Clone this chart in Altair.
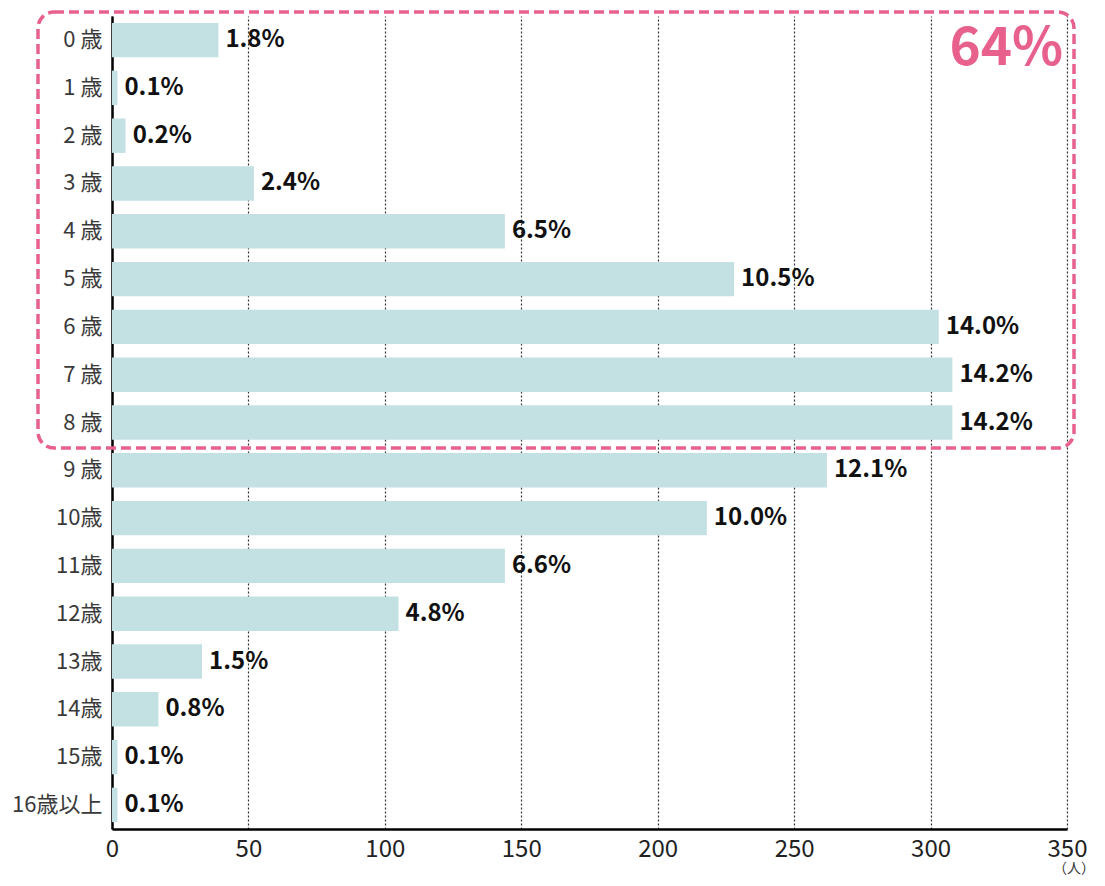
import altair as alt
import pandas as pd

ages = ["0 歳", "1 歳", "2 歳", "3 歳", "4 歳", "5 歳", "6 歳", "7 歳", "8 歳",
        "9 歳", "10歳", "11歳", "12歳", "13歳", "14歳", "15歳", "16歳以上"]
counts = [39, 2, 5, 52, 144, 228, 303, 308, 308, 262, 218, 144, 105, 33, 17, 2, 2]
pct_labels = ["1.8%", "0.1%", "0.2%", "2.4%", "6.5%", "10.5%", "14.0%", "14.2%", "14.2%",
              "12.1%", "10.0%", "6.6%", "4.8%", "1.5%", "0.8%", "0.1%", "0.1%"]
x_ticks = [0, 50, 100, 150, 200, 250, 300, 350]
highlight_text = "64%"
unit_text = "（人）"

df = pd.DataFrame({"age": ages, "count": counts, "pct": pct_labels})

FONT = "Noto Sans CJK JP"
W, H = 955, 813

y_enc = alt.Y("age:N", sort=ages, title=None,
              scale=alt.Scale(paddingInner=0.28, paddingOuter=0.144),
              axis=alt.Axis(labelFontSize=22, labelColor="#3a3a3a", labelFont=FONT,
                            labelPadding=10, ticks=False, domainColor="#000000",
                            domainWidth=2.5, grid=False))
x_enc = alt.X("count:Q", title=None,
              scale=alt.Scale(domain=[0, 350], nice=False),
              axis=alt.Axis(values=x_ticks, labelFontSize=24, labelColor="#222222",
                            labelFont=FONT, labelPadding=8, ticks=False,
                            domainColor="#000000", domainWidth=2.5,
                            grid=True, gridColor="#333333", gridDash=[2, 2],
                            gridWidth=1.2, labelFlush=False))

bars = alt.Chart(df).mark_bar(color="#C3E0E3").encode(x=x_enc, y=y_enc)

labels = alt.Chart(df).mark_text(align="left", baseline="middle", dx=7,
                                 fontSize=24, fontWeight="bold", font=FONT,
                                 color="#111111").encode(
    x="count:Q", y=alt.Y("age:N", sort=ages), text="pct:N")

one = pd.DataFrame({"t": [highlight_text], "u": [unit_text]})

box = alt.Chart(one).mark_rect(filled=False, stroke="#E8618C", strokeWidth=3.5,
                               strokeDash=[10, 5], cornerRadius=16).encode(
    x=alt.value(-74), x2=alt.value(962), y=alt.value(-4), y2=alt.value(432))

big = alt.Chart(one).mark_text(align="right", baseline="middle", fontSize=53,
                               fontWeight="bold", font=FONT, color="#E8618C").encode(
    x=alt.value(951), y=alt.value(33), text="t:N")

unit = alt.Chart(one).mark_text(align="center", baseline="middle", fontSize=14,
                                font=FONT, color="#333333").encode(
    x=alt.value(962), y=alt.value(853), text="u:N")

chart = alt.layer(bars, labels, box, big, unit).properties(
    width=W, height=H,
    autosize=alt.AutoSizeParams(type="none"),
    padding={"left": 104, "top": 8, "right": 30, "bottom": 47},
).configure_view(stroke=None)

chart.save("out.html", embed_options={"renderer": "svg", "actions": False})
